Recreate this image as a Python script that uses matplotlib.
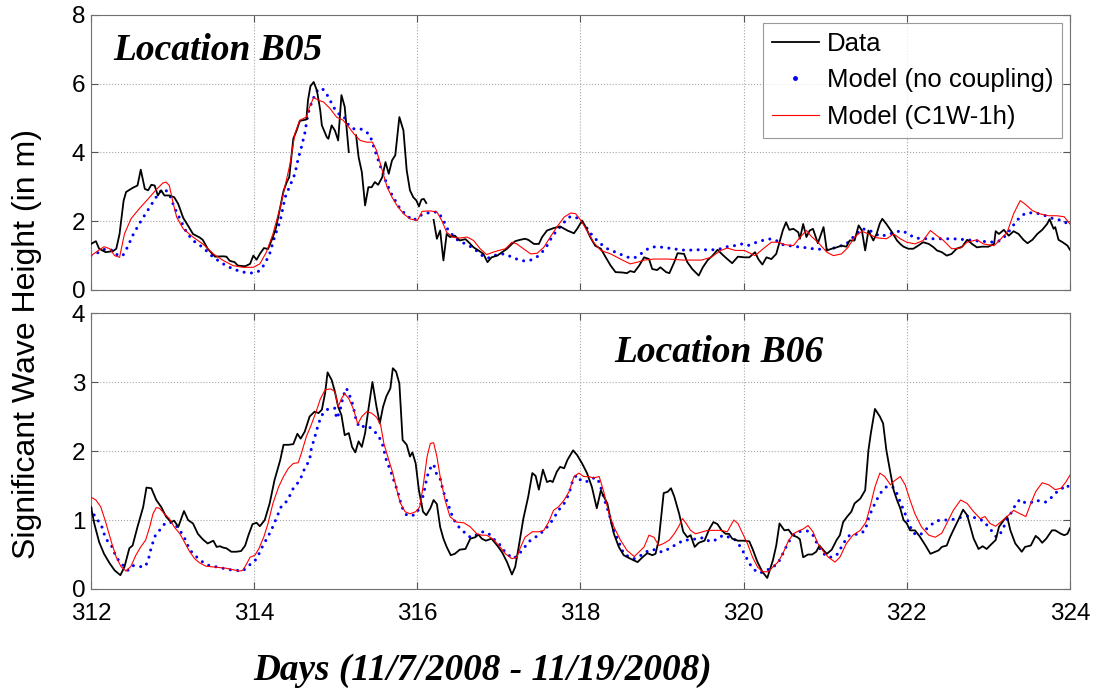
# Significant wave height at B05 / B06: buoy data vs. two model runs
import numpy as np
import matplotlib.pyplot as plt
from matplotlib.lines import Line2D

nan = np.nan

# ---- Location B05 ----
b05_obs_day = [312.00, 312.06, 312.10, 312.18, 312.27, 312.31, 312.35, 312.40, 312.43, 312.51,
               312.57, 312.61, 312.66, 312.70, 312.74, 312.78, 312.82, 312.86, 312.90, 312.96,
               313.02, 313.07, 313.13, 313.19, 313.25, 313.33, 313.37, 313.43, 313.52, 313.62,
               313.66, 313.70, 313.76, 313.80, 313.89, 313.95, 313.99, 314.03, 314.07, 314.12,
               314.17, 314.23, 314.27, 314.32, 314.36, 314.40, 314.43, 314.46, 314.48, 314.52,
               314.56, 314.64, 314.66, 314.69, 314.73, 314.77, 314.81, 314.83, 314.89, 314.91,
               314.95, 314.99, 315.03, 315.07, 315.11, 315.16, 315.20, 315.25, 315.28, 315.32,
               315.36, 315.40, 315.44, 315.48, 315.52, 315.57, 315.61, 315.65, 315.69, 315.73,
               315.78, 315.83, 315.87, 315.91, 315.95, 315.99, 316.02, 316.05, 316.08, 316.11,
               316.15, 316.20, 316.24, 316.28, 316.32, 316.36, 316.40, 316.46, 316.52, 316.59,
               316.63, 316.69, 316.75, 316.81, 316.86, 316.91, 316.98, 317.04, 317.10, 317.16,
               317.20, 317.26, 317.32, 317.36, 317.43, 317.49, 317.53, 317.59, 317.67, 317.75,
               317.84, 317.92, 317.96, 318.02, 318.06, 318.12, 318.18, 318.25, 318.31, 318.37,
               318.43, 318.51, 318.57, 318.61, 318.66, 318.72, 318.78, 318.84, 318.88, 318.94,
               318.98, 319.05, 319.09, 319.15, 319.19, 319.27, 319.31, 319.37, 319.45, 319.50,
               319.56, 319.62, 319.68, 319.74, 319.80, 319.86, 319.93, 320.01, 320.07, 320.14,
               320.18, 320.23, 320.28, 320.34, 320.40, 320.44, 320.48, 320.52, 320.56, 320.61,
               320.67, 320.69, 320.73, 320.77, 320.81, 320.85, 320.91, 320.98, 321.02, 321.08,
               321.14, 321.20, 321.26, 321.30, 321.36, 321.41, 321.45, 321.49, 321.53, 321.59,
               321.63, 321.67, 321.70, 321.75, 321.82, 321.88, 321.92, 321.96, 322.02, 322.08,
               322.14, 322.20, 322.27, 322.33, 322.37, 322.43, 322.49, 322.55, 322.61, 322.68,
               322.74, 322.80, 322.86, 322.92, 323.00, 323.07, 323.09, 323.13, 323.19, 323.25,
               323.31, 323.37, 323.43, 323.48, 323.54, 323.60, 323.66, 323.72, 323.75, 323.80,
               323.82, 323.86, 323.91, 323.97, 324.00]
b05_obs_hs = [1.34, 1.42, 1.20, 1.10, 1.13, 1.20, 1.63, 2.60, 2.85, 2.97,
              3.04, 3.50, 2.94, 2.90, 3.06, 3.04, 2.75, 2.90, 2.75, 2.75,
              2.70, 2.50, 2.10, 1.87, 1.63, 1.53, 1.46, 1.20, 0.97, 0.98,
              0.97, 0.85, 0.81, 0.71, 0.69, 0.76, 1.00, 0.88, 1.05, 1.22,
              1.19, 1.54, 1.83, 2.41, 2.88, 3.14, 3.28, 3.97, 4.40, 4.64,
              4.92, 4.96, 5.52, 5.93, 6.05, 5.80, 5.23, 4.79, 4.45, 4.40,
              4.79, 4.64, 4.35, 5.67, 5.33, 4.01, nan, 4.50, 3.87, 3.43,
              2.46, 2.99, 2.99, 3.14, 3.06, 3.28, 3.72, 3.38, 3.77, 3.92,
              5.03, 4.64, 3.48, 2.90, 2.70, 2.60, 2.43, 2.63, 2.65, 2.53,
              nan, 2.04, 1.49, 1.73, 0.86, 1.63, 1.54, 1.58, 1.44, 1.48,
              1.39, 1.24, 1.15, 1.05, 0.81, 0.95, 1.00, 1.10, 1.20, 1.34,
              1.42, 1.46, 1.49, 1.46, 1.34, 1.34, 1.54, 1.73, 1.80, 1.85,
              1.73, 1.65, 1.78, 2.02, 1.85, 1.54, 1.29, 1.20, 0.95, 0.71,
              0.52, 0.51, 0.49, 0.55, 0.52, 0.71, 0.95, 0.90, 0.61, 0.58,
              0.66, 0.52, 0.49, 0.81, 1.07, 1.05, 0.81, 0.61, 0.42, 0.66,
              0.87, 1.00, 1.17, 1.03, 0.90, 0.78, 0.97, 0.95, 0.95, 1.10,
              0.90, 0.74, 0.95, 0.90, 1.05, 1.39, 1.73, 1.97, 1.75, 1.78,
              1.68, 1.49, 1.92, 1.54, 1.73, 1.78, 1.36, 1.83, 1.15, 1.20,
              1.24, 1.29, 1.26, 1.44, 1.44, 1.88, 1.73, 1.15, 1.73, 1.44,
              1.63, 1.94, 2.07, 1.92, 1.68, 1.44, 1.34, 1.26, 1.20, 1.20,
              1.29, 1.39, 1.34, 1.24, 1.15, 1.10, 1.00, 1.05, 1.20, 1.26,
              1.46, 1.34, 1.24, 1.26, 1.26, 1.34, 1.71, 1.63, 1.75, 1.58,
              1.71, 1.63, 1.46, 1.36, 1.46, 1.63, 1.75, 1.92, 2.06, 1.78,
              1.83, 1.46, 1.39, 1.29, 1.17]

b05_nocpl_day = [312.00, 312.10, 312.18, 312.27, 312.33, 312.39, 312.45, 312.51, 312.59, 312.68,
                 312.76, 312.84, 312.90, 312.96, 313.02, 313.09, 313.17, 313.25, 313.37, 313.50,
                 313.62, 313.74, 313.86, 313.99, 314.07, 314.13, 314.19, 314.25, 314.32, 314.38,
                 314.44, 314.50, 314.54, 314.58, 314.62, 314.66, 314.70, 314.75, 314.79, 314.85,
                 314.91, 314.97, 315.03, 315.09, 315.16, 315.22, 315.30, 315.36, 315.42, 315.48,
                 315.55, 315.61, 315.67, 315.73, 315.79, 315.87, 315.95, 316.02, 316.08, 316.20,
                 316.26, 316.32, 316.38, 316.44, 316.50, 316.59, 316.67, 316.75, 316.81, 316.87,
                 316.93, 317.00, 317.06, 317.12, 317.18, 317.26, 317.32, 317.39, 317.47, 317.53,
                 317.59, 317.65, 317.71, 317.80, 317.86, 317.92, 317.98, 318.04, 318.10, 318.16,
                 318.25, 318.33, 318.43, 318.53, 318.61, 318.68, 318.74, 318.84, 318.92, 319.02,
                 319.13, 319.23, 319.31, 319.39, 319.52, 319.64, 319.72, 319.80, 319.89, 319.97,
                 320.05, 320.16, 320.26, 320.34, 320.40, 320.48, 320.61, 320.73, 320.85, 321.02,
                 321.14, 321.26, 321.36, 321.45, 321.53, 321.61, 321.67, 321.75, 321.86, 321.94,
                 322.02, 322.10, 322.25, 322.41, 322.57, 322.74, 322.90, 323.07, 323.15, 323.23,
                 323.29, 323.35, 323.41, 323.48, 323.60, 323.70, 323.80, 323.91, 324.00]
b05_nocpl_hs = [1.00, 1.10, 1.20, 1.15, 1.00, 1.00, 1.26, 1.58, 1.92, 2.26,
                2.56, 2.85, 2.94, 2.80, 2.41, 2.07, 1.68, 1.44, 1.24, 0.95,
                0.76, 0.61, 0.52, 0.49, 0.56, 0.76, 1.05, 1.54, 2.02, 2.70,
                3.04, 3.38, 3.82, 4.16, 4.55, 5.13, 5.42, 5.71, 5.86, 5.83,
                5.62, 5.33, 5.13, 5.08, 4.79, 4.69, 4.69, 4.63, 4.50, 4.06,
                3.58, 3.19, 2.85, 2.60, 2.36, 2.17, 2.02, 2.14, 2.22, 2.27,
                2.26, 2.02, 1.73, 1.58, 1.44, 1.34, 1.24, 1.10, 0.97, 0.93,
                1.00, 1.03, 1.05, 1.00, 0.93, 0.87, 0.84, 0.87, 0.97, 1.10,
                1.29, 1.54, 1.73, 1.97, 2.12, 2.14, 2.07, 1.92, 1.73, 1.54,
                1.34, 1.20, 1.10, 1.00, 0.93, 0.95, 1.05, 1.22, 1.26, 1.24,
                1.20, 1.17, 1.15, 1.17, 1.17, 1.17, 1.20, 1.26, 1.29, 1.34,
                1.29, 1.39, 1.46, 1.49, 1.44, 1.32, 1.27, 1.24, 1.20, 1.17,
                1.24, 1.34, 1.58, 1.78, 1.75, 1.65, 1.56, 1.60, 1.68, 1.73,
                1.63, 1.51, 1.49, 1.49, 1.49, 1.46, 1.42, 1.39, 1.44, 1.63,
                1.83, 2.02, 2.17, 2.25, 2.23, 2.16, 2.07, 2.02, 1.88]

b05_c1w_day = [312.00, 312.08, 312.16, 312.23, 312.29, 312.35, 312.41, 312.49, 312.59, 312.70,
               312.80, 312.88, 312.92, 312.96, 313.00, 313.05, 313.13, 313.25, 313.37, 313.50,
               313.62, 313.74, 313.86, 313.99, 314.07, 314.15, 314.23, 314.32, 314.38, 314.44,
               314.50, 314.56, 314.64, 314.68, 314.73, 314.79, 314.85, 314.93, 315.01, 315.09,
               315.16, 315.22, 315.30, 315.38, 315.45, 315.50, 315.57, 315.63, 315.69, 315.75,
               315.83, 315.91, 316.00, 316.06, 316.16, 316.24, 316.30, 316.36, 316.44, 316.52,
               316.61, 316.69, 316.77, 316.85, 316.93, 317.00, 317.08, 317.16, 317.22, 317.30,
               317.39, 317.47, 317.55, 317.63, 317.71, 317.80, 317.88, 317.94, 318.00, 318.08,
               318.16, 318.25, 318.37, 318.49, 318.61, 318.70, 318.78, 318.90, 319.07, 319.27,
               319.48, 319.60, 319.72, 319.80, 319.90, 320.01, 320.14, 320.24, 320.34, 320.42,
               320.50, 320.61, 320.69, 320.77, 320.83, 320.91, 321.02, 321.10, 321.20, 321.28,
               321.36, 321.45, 321.53, 321.63, 321.75, 321.84, 321.92, 322.00, 322.10, 322.20,
               322.29, 322.37, 322.45, 322.55, 322.66, 322.74, 322.86, 322.94, 323.07, 323.15,
               323.23, 323.31, 323.39, 323.45, 323.54, 323.64, 323.74, 323.84, 323.93, 324.00]
b05_c1w_hs = [1.00, 1.13, 1.26, 1.20, 1.00, 0.95, 1.63, 2.07, 2.36, 2.65,
              2.92, 3.11, 3.14, 3.04, 2.60, 2.12, 1.78, 1.54, 1.34, 1.05,
              0.86, 0.71, 0.66, 0.66, 0.76, 1.10, 1.63, 2.41, 3.04, 3.67,
              4.55, 4.94, 5.03, 5.33, 5.60, 5.52, 5.47, 5.28, 5.03, 4.94,
              4.74, 4.55, 4.35, 4.30, 4.30, 4.06, 3.48, 2.99, 2.70, 2.46,
              2.22, 2.07, 2.02, 2.29, 2.30, 2.27, 2.02, 1.68, 1.53, 1.51,
              1.54, 1.44, 1.20, 1.03, 1.10, 1.15, 1.20, 1.39, 1.34, 1.20,
              1.05, 1.07, 1.24, 1.54, 1.83, 2.12, 2.24, 2.22, 2.04, 1.73,
              1.39, 1.15, 1.05, 0.90, 0.76, 0.81, 0.87, 0.90, 0.90, 0.87,
              0.87, 0.95, 1.15, 1.22, 1.15, 1.15, 1.00, 1.20, 1.39, 1.39,
              1.32, 1.29, 1.53, 1.73, 1.56, 1.39, 1.10, 1.00, 1.05, 1.24,
              1.54, 1.71, 1.63, 1.52, 1.49, 1.63, 1.49, 1.39, 1.34, 1.44,
              1.73, 1.58, 1.44, 1.20, 1.22, 1.39, 1.46, 1.34, 1.29, 1.48,
              1.68, 2.22, 2.60, 2.50, 2.31, 2.21, 2.16, 2.16, 2.13, 1.92]

# ---- Location B06 ----
b06_obs_day = [312.00, 312.04, 312.10, 312.16, 312.23, 312.29, 312.36, 312.41, 312.47, 312.51,
               312.57, 312.64, 312.68, 312.74, 312.80, 312.86, 312.92, 312.98, 313.02, 313.07,
               313.14, 313.19, 313.25, 313.31, 313.37, 313.43, 313.50, 313.54, 313.58, 313.62,
               313.66, 313.72, 313.78, 313.84, 313.89, 313.93, 313.98, 314.03, 314.07, 314.13,
               314.19, 314.25, 314.32, 314.36, 314.42, 314.48, 314.53, 314.57, 314.62, 314.68,
               314.74, 314.79, 314.83, 314.87, 314.90, 314.95, 314.99, 315.03, 315.07, 315.11,
               315.16, 315.20, 315.24, 315.28, 315.32, 315.36, 315.40, 315.45, 315.50, 315.54,
               315.58, 315.62, 315.67, 315.70, 315.74, 315.78, 315.82, 315.87, 315.91, 315.94,
               315.98, 316.02, 316.07, 316.11, 316.16, 316.20, 316.24, 316.28, 316.32, 316.36,
               316.41, 316.46, 316.52, 316.59, 316.65, 316.71, 316.75, 316.79, 316.84, 316.91,
               316.98, 317.04, 317.10, 317.16, 317.20, 317.24, 317.30, 317.36, 317.41, 317.45,
               317.49, 317.54, 317.59, 317.63, 317.66, 317.71, 317.75, 317.80, 317.84, 317.91,
               317.96, 318.02, 318.08, 318.14, 318.20, 318.25, 318.29, 318.33, 318.37, 318.41,
               318.47, 318.53, 318.61, 318.70, 318.76, 318.82, 318.88, 318.92, 318.96, 319.02,
               319.07, 319.11, 319.15, 319.21, 319.26, 319.31, 319.35, 319.40, 319.45, 319.52,
               319.58, 319.63, 319.68, 319.73, 319.78, 319.82, 319.86, 319.93, 320.01, 320.07,
               320.11, 320.17, 320.23, 320.29, 320.32, 320.36, 320.40, 320.44, 320.50, 320.55,
               320.60, 320.66, 320.69, 320.73, 320.79, 320.84, 320.89, 320.93, 320.98, 321.02,
               321.08, 321.14, 321.18, 321.22, 321.27, 321.32, 321.36, 321.43, 321.49, 321.53,
               321.56, 321.61, 321.67, 321.71, 321.75, 321.80, 321.84, 321.88, 321.92, 321.96,
               322.00, 322.04, 322.10, 322.16, 322.23, 322.29, 322.35, 322.39, 322.43, 322.49,
               322.53, 322.59, 322.64, 322.69, 322.74, 322.78, 322.82, 322.88, 322.93, 322.98,
               323.02, 323.09, 323.13, 323.19, 323.23, 323.27, 323.33, 323.41, 323.45, 323.52,
               323.58, 323.62, 323.66, 323.71, 323.78, 323.82, 323.89, 323.93, 323.97, 324.00]
b06_obs_hs = [1.19, 0.95, 0.68, 0.51, 0.37, 0.27, 0.20, 0.32, 0.59, 0.63,
              0.90, 1.19, 1.47, 1.46, 1.29, 1.19, 1.05, 0.97, 0.99, 0.90,
              1.13, 1.00, 0.95, 0.80, 0.72, 0.66, 0.70, 0.61, 0.62, 0.60,
              0.59, 0.54, 0.54, 0.55, 0.63, 0.78, 0.94, 0.96, 0.91, 1.00,
              1.24, 1.58, 1.87, 2.09, 2.09, 2.10, 2.25, 2.18, 2.28, 2.50,
              2.57, 2.55, 2.60, 2.84, 3.14, 3.03, 2.86, 2.64, 2.52, 2.23,
              2.26, 2.06, 1.98, 2.14, 2.06, 2.26, 2.60, 3.00, 2.64, 2.40,
              2.64, 2.79, 2.91, 3.20, 3.15, 2.98, 2.16, 2.09, 1.92, 1.98,
              1.82, 1.43, 1.12, 1.07, 1.17, 1.29, 1.23, 0.90, 0.73, 0.61,
              0.49, 0.51, 0.57, 0.58, 0.73, 0.75, 0.79, 0.73, 0.70, 0.73,
              0.63, 0.53, 0.39, 0.21, 0.32, 0.59, 1.02, 1.34, 1.68, 1.64,
              1.44, 1.73, 1.55, 1.57, 1.55, 1.70, 1.77, 1.75, 1.87, 2.01,
              1.94, 1.82, 1.68, 1.48, 1.17, 1.43, 1.33, 1.24, 1.00, 0.80,
              0.61, 0.49, 0.44, 0.39, 0.46, 0.52, 0.49, 0.51, 0.71, 1.39,
              1.41, 1.46, 1.34, 1.09, 0.83, 0.75, 0.78, 0.61, 0.67, 0.70,
              0.87, 0.97, 0.94, 0.85, 0.80, 0.80, 0.73, 0.70, 0.70, 0.69,
              0.58, 0.39, 0.25, 0.16, 0.27, 0.42, 0.63, 0.95, 0.85, 0.86,
              0.78, 0.75, 0.72, 0.46, 0.50, 0.50, 0.54, 0.63, 0.56, 0.51,
              0.57, 0.71, 0.78, 0.97, 1.05, 1.12, 1.24, 1.31, 1.43, 2.01,
              2.26, 2.61, 2.50, 2.40, 2.01, 1.68, 1.43, 1.29, 1.17, 1.00,
              0.95, 0.85, 0.85, 0.76, 0.63, 0.51, 0.54, 0.56, 0.61, 0.63,
              0.75, 0.90, 1.02, 1.15, 1.07, 0.90, 0.73, 0.58, 0.62, 0.58,
              0.63, 0.71, 0.90, 1.00, 1.05, 0.85, 0.66, 0.54, 0.61, 0.63,
              0.77, 0.73, 0.67, 0.73, 0.85, 0.85, 0.80, 0.78, 0.80, 0.88]

b06_nocpl_day = [312.00, 312.06, 312.12, 312.18, 312.25, 312.31, 312.37, 312.45, 312.51, 312.57,
                 312.64, 312.67, 312.71, 312.74, 312.79, 312.84, 312.90, 312.96, 313.02, 313.09,
                 313.15, 313.21, 313.27, 313.33, 313.39, 313.45, 313.54, 313.62, 313.70, 313.78,
                 313.86, 313.93, 313.99, 314.04, 314.09, 314.15, 314.21, 314.27, 314.33, 314.38,
                 314.44, 314.48, 314.53, 314.58, 314.62, 314.68, 314.70, 314.75, 314.79, 314.83,
                 314.89, 314.95, 314.99, 315.01, 315.05, 315.09, 315.13, 315.16, 315.21, 315.25,
                 315.29, 315.35, 315.40, 315.46, 315.52, 315.57, 315.62, 315.67, 315.71, 315.76,
                 315.81, 315.87, 315.93, 315.99, 316.04, 316.08, 316.12, 316.16, 316.20, 316.24,
                 316.28, 316.32, 316.38, 316.44, 316.50, 316.57, 316.63, 316.69, 316.75, 316.81,
                 316.87, 316.93, 317.00, 317.06, 317.12, 317.18, 317.24, 317.30, 317.36, 317.43,
                 317.49, 317.55, 317.61, 317.67, 317.73, 317.80, 317.86, 317.90, 317.95, 318.00,
                 318.06, 318.12, 318.18, 318.23, 318.29, 318.35, 318.41, 318.47, 318.53, 318.59,
                 318.66, 318.72, 318.78, 318.84, 318.90, 318.96, 319.02, 319.09, 319.15, 319.21,
                 319.27, 319.33, 319.39, 319.45, 319.52, 319.58, 319.64, 319.70, 319.76, 319.82,
                 319.89, 319.95, 320.01, 320.07, 320.13, 320.19, 320.25, 320.36, 320.42, 320.48,
                 320.55, 320.61, 320.67, 320.73, 320.79, 320.85, 320.90, 320.95, 321.02, 321.08,
                 321.14, 321.20, 321.25, 321.30, 321.36, 321.43, 321.49, 321.53, 321.57, 321.63,
                 321.69, 321.75, 321.82, 321.87, 321.92, 321.98, 322.02, 322.07, 322.12, 322.18,
                 322.25, 322.31, 322.37, 322.45, 322.53, 322.61, 322.70, 322.76, 322.82, 322.88,
                 322.94, 323.00, 323.05, 323.10, 323.15, 323.21, 323.25, 323.29, 323.34, 323.39,
                 323.45, 323.52, 323.58, 323.64, 323.70, 323.76, 323.82, 323.89, 323.95, 324.00]
b06_nocpl_hs = [1.17, 1.02, 0.95, 0.73, 0.63, 0.46, 0.37, 0.27, 0.34, 0.33,
                0.32, 0.33, 0.46, 0.61, 0.78, 0.85, 0.94, 0.97, 0.95, 0.85,
                0.73, 0.57, 0.49, 0.43, 0.37, 0.34, 0.32, 0.30, 0.28, 0.27,
                0.26, 0.34, 0.38, 0.46, 0.59, 0.72, 0.85, 1.02, 1.19, 1.24,
                1.36, 1.46, 1.53, 1.63, 1.75, 1.87, 2.03, 2.23, 2.40, 2.52,
                2.60, 2.62, 2.62, 2.47, 2.57, 2.79, 2.91, 2.84, 2.67, 2.45,
                2.34, 2.36, 2.36, 2.30, 2.23, 2.11, 1.87, 1.72, 1.58, 1.41,
                1.19, 1.07, 1.06, 1.09, 1.22, 1.39, 1.63, 1.75, 1.81, 1.65,
                1.60, 1.41, 1.22, 1.02, 0.91, 0.83, 0.76, 0.75, 0.81, 0.83,
                0.81, 0.73, 0.66, 0.56, 0.49, 0.44, 0.50, 0.58, 0.68, 0.74,
                0.78, 0.85, 0.92, 1.02, 1.14, 1.24, 1.38, 1.55, 1.65, 1.58,
                1.55, 1.58, 1.62, 1.55, 1.31, 1.09, 0.85, 0.68, 0.51, 0.47,
                0.44, 0.47, 0.52, 0.56, 0.57, 0.54, 0.54, 0.59, 0.63, 0.67,
                0.71, 0.71, 0.72, 0.74, 0.74, 0.69, 0.70, 0.75, 0.78, 0.75,
                0.72, 0.63, 0.51, 0.37, 0.28, 0.23, 0.25, 0.32, 0.37, 0.51,
                0.68, 0.78, 0.83, 0.84, 0.84, 0.78, 0.66, 0.55, 0.47, 0.46,
                0.49, 0.61, 0.71, 0.78, 0.79, 0.80, 0.85, 1.02, 1.14, 1.29,
                1.41, 1.48, 1.49, 1.41, 1.26, 1.09, 0.97, 0.83, 0.78, 0.80,
                0.88, 0.94, 0.99, 1.00, 1.00, 1.02, 1.05, 1.06, 1.04, 1.01,
                0.99, 0.90, 0.83, 0.75, 0.81, 0.95, 1.05, 1.12, 1.24, 1.30,
                1.25, 1.25, 1.29, 1.27, 1.26, 1.31, 1.39, 1.44, 1.51, 1.47]

b06_c1w_day = [312.00, 312.06, 312.12, 312.18, 312.25, 312.31, 312.37, 312.43, 312.49, 312.55,
               312.61, 312.67, 312.72, 312.76, 312.80, 312.84, 312.90, 312.96, 313.02, 313.09,
               313.15, 313.21, 313.27, 313.33, 313.41, 313.50, 313.58, 313.66, 313.74, 313.82,
               313.86, 313.91, 313.95, 314.01, 314.06, 314.12, 314.17, 314.23, 314.30, 314.36,
               314.42, 314.48, 314.54, 314.58, 314.64, 314.70, 314.76, 314.81, 314.87, 314.94,
               314.99, 315.03, 315.07, 315.11, 315.16, 315.22, 315.27, 315.32, 315.38, 315.44,
               315.50, 315.55, 315.59, 315.65, 315.70, 315.75, 315.79, 315.85, 315.91, 315.98,
               316.03, 316.07, 316.12, 316.16, 316.20, 316.24, 316.28, 316.34, 316.40, 316.48,
               316.57, 316.65, 316.73, 316.79, 316.85, 316.93, 317.00, 317.08, 317.16, 317.22,
               317.26, 317.32, 317.41, 317.49, 317.55, 317.61, 317.67, 317.73, 317.80, 317.86,
               317.92, 317.98, 318.04, 318.10, 318.16, 318.23, 318.29, 318.35, 318.41, 318.49,
               318.57, 318.66, 318.72, 318.78, 318.84, 318.90, 318.96, 319.02, 319.09, 319.15,
               319.21, 319.25, 319.29, 319.35, 319.41, 319.50, 319.56, 319.64, 319.72, 319.80,
               319.88, 319.93, 319.99, 320.05, 320.11, 320.17, 320.23, 320.30, 320.36, 320.42,
               320.48, 320.55, 320.61, 320.67, 320.73, 320.79, 320.85, 320.91, 320.98, 321.04,
               321.12, 321.18, 321.26, 321.34, 321.43, 321.50, 321.55, 321.61, 321.67, 321.73,
               321.80, 321.84, 321.92, 321.98, 322.04, 322.10, 322.18, 322.27, 322.35, 322.43,
               322.49, 322.57, 322.66, 322.74, 322.82, 322.90, 322.96, 323.02, 323.09, 323.15,
               323.23, 323.31, 323.39, 323.46, 323.52, 323.58, 323.66, 323.74, 323.82, 323.89,
               323.95, 324.00]
b06_c1w_hs = [1.33, 1.29, 1.19, 0.97, 0.68, 0.46, 0.32, 0.26, 0.33, 0.49,
              0.61, 0.71, 0.90, 1.09, 1.18, 1.17, 1.09, 1.02, 0.90, 0.80,
              0.67, 0.54, 0.44, 0.38, 0.33, 0.32, 0.31, 0.30, 0.28, 0.26,
              0.27, 0.37, 0.46, 0.49, 0.59, 0.76, 0.95, 1.24, 1.48, 1.63,
              1.75, 1.82, 1.83, 1.97, 2.21, 2.38, 2.57, 2.75, 2.89, 2.90,
              2.86, 2.64, 2.76, 2.83, 2.76, 2.60, 2.39, 2.50, 2.57, 2.55,
              2.49, 2.38, 2.11, 1.87, 1.68, 1.43, 1.25, 1.12, 1.09, 1.12,
              1.19, 1.48, 1.92, 2.11, 2.12, 1.92, 1.63, 1.29, 1.05, 0.97,
              0.96, 0.90, 0.80, 0.78, 0.78, 0.72, 0.63, 0.51, 0.44, 0.46,
              0.59, 0.75, 0.83, 0.83, 0.85, 0.97, 1.14, 1.19, 1.29, 1.41,
              1.63, 1.68, 1.63, 1.63, 1.61, 1.63, 1.39, 1.09, 0.90, 0.71,
              0.56, 0.47, 0.54, 0.61, 0.78, 0.75, 0.63, 0.66, 0.71, 0.80,
              0.92, 1.02, 0.96, 0.85, 0.80, 0.83, 0.85, 0.85, 0.85, 0.83,
              1.00, 0.95, 0.80, 0.65, 0.46, 0.32, 0.25, 0.25, 0.32, 0.39,
              0.51, 0.70, 0.80, 0.84, 0.87, 0.92, 0.83, 0.66, 0.54, 0.46,
              0.39, 0.46, 0.66, 0.78, 0.85, 0.97, 1.19, 1.48, 1.68, 1.63,
              1.51, 1.56, 1.63, 1.51, 1.29, 1.09, 0.90, 0.78, 0.75, 0.81,
              0.95, 1.14, 1.29, 1.24, 1.12, 1.02, 1.05, 0.95, 0.91, 0.97,
              1.05, 1.14, 1.09, 1.05, 1.24, 1.41, 1.54, 1.51, 1.44, 1.46,
              1.55, 1.65]

xticks = [312, 314, 316, 318, 320, 322, 324]
labels = ['Data', 'Model (no coupling)', 'Model (C1W-1h)']

plt.rcParams['font.family'] = ['Liberation Sans', 'DejaVu Sans']
fig = plt.figure(figsize=(10.95, 6.88), dpi=100)
ax1 = fig.add_axes([0.0831, 0.5785, 0.894, 0.3997])
ax2 = fig.add_axes([0.0831, 0.1439, 0.894, 0.4011])

serif_bi = dict(family='Liberation Serif', weight='bold', style='italic')

def draw(ax, obs_d, obs_h, nc_d, nc_h, cw_d, cw_h):
    ax.plot(obs_d, obs_h, color='black', lw=1.3, zorder=3)
    ax.plot(nc_d, nc_h, color='#0000ff', lw=2.2, ls=(0, (0.01, 2.4)),
            dash_capstyle='round', zorder=2)
    ax.plot(cw_d, cw_h, color='#ff0000', lw=0.8, zorder=4)
    ax.set_xlim(312, 324)
    ax.set_xticks(xticks)
    ax.grid(True, ls=':', color='#a8a8a8', lw=0.8)
    ax.tick_params(direction='in', length=5, labelsize=17.5, color='#555555',
                   top=True, right=True)
    ax.tick_params(axis='y', pad=4)
    ax.tick_params(axis='x', pad=10)
    for s in ax.spines.values():
        s.set_color('#707070')

draw(ax1, b05_obs_day, b05_obs_hs, b05_nocpl_day, b05_nocpl_hs, b05_c1w_day, b05_c1w_hs)
ax1.set_ylim(0, 8)
ax1.set_yticks([0, 2, 4, 6, 8])
ax1.set_xticklabels([])
ax1.text(0.0225, 0.836, 'Location B05', transform=ax1.transAxes, va='baseline',
         size=27, **serif_bi)

handles = [Line2D([], [], color='black', lw=1.3),
           Line2D([], [], ls='none', marker='.', color='#0000ff', markersize=5),
           Line2D([], [], color='#ff0000', lw=0.8)]
leg = ax1.legend(handles, labels, loc='upper right', fontsize=18.5, frameon=True,
                 fancybox=False, edgecolor='#808080', borderpad=0.35, borderaxespad=0,
                 handlelength=1.85, labelspacing=0.48, handletextpad=0.3,
                 bbox_to_anchor=(0.9923, 0.971))
leg.get_frame().set_linewidth(0.8)

draw(ax2, b06_obs_day, b06_obs_hs, b06_nocpl_day, b06_nocpl_hs, b06_c1w_day, b06_c1w_hs)
ax2.set_ylim(0, 4)
ax2.set_yticks([0, 1, 2, 3, 4])
ax2.text(0.535, 0.822, 'Location B06', transform=ax2.transAxes, va='baseline',
         size=27, **serif_bi)

fig.text(0.025, 0.5, 'Significant Wave Height (in m)', rotation=90, va='center',
         ha='center', fontsize=23)
fig.text(0.441, 0.0116, 'Days (11/7/2008 - 11/19/2008)', ha='center', va='baseline',
         size=26.8, **serif_bi)

fig.savefig('out.png', dpi=100)
